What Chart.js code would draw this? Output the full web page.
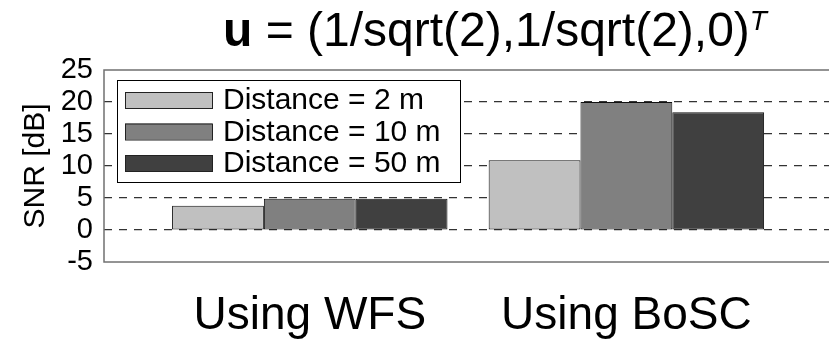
<!DOCTYPE html>
<html>
<head>
<meta charset="utf-8">
<script src="https://cdn.jsdelivr.net/npm/chart.js@4/dist/chart.umd.min.js"></script>
<style>
  html, body { margin: 0; padding: 0; background: #fff; }
  #wrap { width: 829px; height: 343px; }
</style>
</head>
<body>
<div id="wrap"><canvas id="snr-chart" width="829" height="343"></canvas></div>
<script>
// values
const categories = ['Using WFS', 'Using BoSC'];
const categoryPos = [1, 2];
const distances = ['Distance = 2 m', 'Distance = 10 m', 'Distance = 50 m'];
const snr2m = [3.8, 10.9];
const snr10m = [4.9, 20.0];
const snr50m = [4.9, 18.4];
const yTicks = [-5, 0, 5, 10, 15, 20, 25];

const FONT = "'Liberation Sans', Arial, Helvetica, sans-serif";
const colors = ['#c0c0c0', '#808080', '#404040'];

function toPoints(values) {
    return values.map((v, i) => ({ x: categoryPos[i], y: v }));
}

// title with bold u and italic superscript T
const titlePlugin = {
    id: 'mathTitle',
    afterDraw(chart) {
        const ctx = chart.ctx;
        const parts = [
            { t: 'u', f: 'bold 48px ' + FONT, dy: 0 },
            { t: ' = (1/sqrt(2),1/sqrt(2),0)', f: '48px ' + FONT, dy: 0 },
            { t: 'T', f: 'italic 28px ' + FONT, dy: -16 }
        ];
        ctx.save();
        ctx.fillStyle = '#000';
        ctx.textBaseline = 'alphabetic';
        let total = 0;
        parts.forEach(p => { ctx.font = p.f; p.w = ctx.measureText(p.t).width; total += p.w; });
        let x = 495 - total / 2;
        parts.forEach(p => {
            ctx.font = p.f;
            ctx.fillText(p.t, x, 46 + p.dy);
            x += p.w;
        });
        ctx.restore();
    }
};

// axes frame and boxed legend inside the plot
const framePlugin = {
    id: 'frameLegend',
    afterDatasetsDraw(chart) {
        const ctx = chart.ctx;
        const ca = chart.chartArea;
        ctx.save();
        ctx.strokeStyle = '#707070';
        ctx.lineWidth = 1.5;
        ctx.strokeRect(ca.left, ca.top, ca.right - ca.left + 10, ca.bottom - ca.top);

        const lx = ca.left + 13, ly = ca.top + 10;
        ctx.fillStyle = '#fff';
        ctx.fillRect(lx, ly, 343, 102);
        ctx.strokeStyle = '#000';
        ctx.lineWidth = 1;
        ctx.strokeRect(lx + 0.5, ly + 0.5, 343, 102);
        ctx.font = '30px ' + FONT;
        ctx.textBaseline = 'middle';
        chart.data.datasets.forEach((ds, i) => {
            const sy = ly + 12 + i * 31.5;
            ctx.fillStyle = ds.backgroundColor;
            ctx.fillRect(lx + 8, sy, 87, 16);
            ctx.strokeStyle = '#222';
            ctx.strokeRect(lx + 8.5, sy + 0.5, 87, 16);
            ctx.fillStyle = '#000';
            ctx.fillText(ds.label, lx + 106, sy + 9);
        });
        ctx.restore();
    }
};

new Chart(document.querySelector('#snr-chart').getContext('2d'), {
    type: 'bar',
    data: {
        datasets: [snr2m, snr10m, snr50m].map((vals, i) => ({
            label: distances[i],
            data: toPoints(vals),
            backgroundColor: colors[i],
            borderColor: '#111',
            borderWidth: 1,
            borderSkipped: false,
            categoryPercentage: 0.87,
            barPercentage: 1.0
        }))
    },
    options: {
        responsive: false,
        animation: false,
        layout: { padding: { top: 70, left: 0, right: 0, bottom: 0 } },
        plugins: {
            legend: { display: false },
            title: { display: false },
            tooltip: { enabled: false }
        },
        scales: {
            x: {
                type: 'linear',
                offset: false,
                min: 0.35,
                max: 2.64,
                afterBuildTicks: scale => { scale.ticks = categoryPos.map(v => ({ value: v })); },
                afterFit: scale => { scale.height = 81; },
                ticks: {
                    callback: value => categories[categoryPos.indexOf(value)],
                    font: { family: FONT, size: 46 },
                    color: '#000',
                    padding: 27,
                    maxRotation: 0,
                    autoSkip: false
                },
                grid: { display: false, drawTicks: false, offset: false },
                border: { display: false }
            },
            y: {
                min: -5,
                max: 25,
                afterBuildTicks: scale => { scale.ticks = yTicks.map(v => ({ value: v })); },
                afterFit: scale => { scale.width = 104; },
                ticks: {
                    font: { family: FONT, size: 29 },
                    color: '#000',
                    padding: 11,
                    autoSkip: false
                },
                grid: {
                    drawTicks: false,
                    color: ctx => (ctx.tick && (ctx.tick.value === -5 || ctx.tick.value === 25)) ? 'rgba(0,0,0,0)' : '#333',
                    lineWidth: 1.2
                },
                border: { display: false, dash: [8, 7] },
                title: {
                    display: true,
                    text: 'SNR [dB]',
                    font: { family: FONT, size: 30 },
                    color: '#000',
                    padding: { top: 18, bottom: 0 }
                }
            }
        }
    },
    plugins: [titlePlugin, framePlugin]
});
</script>
</body>
</html>
